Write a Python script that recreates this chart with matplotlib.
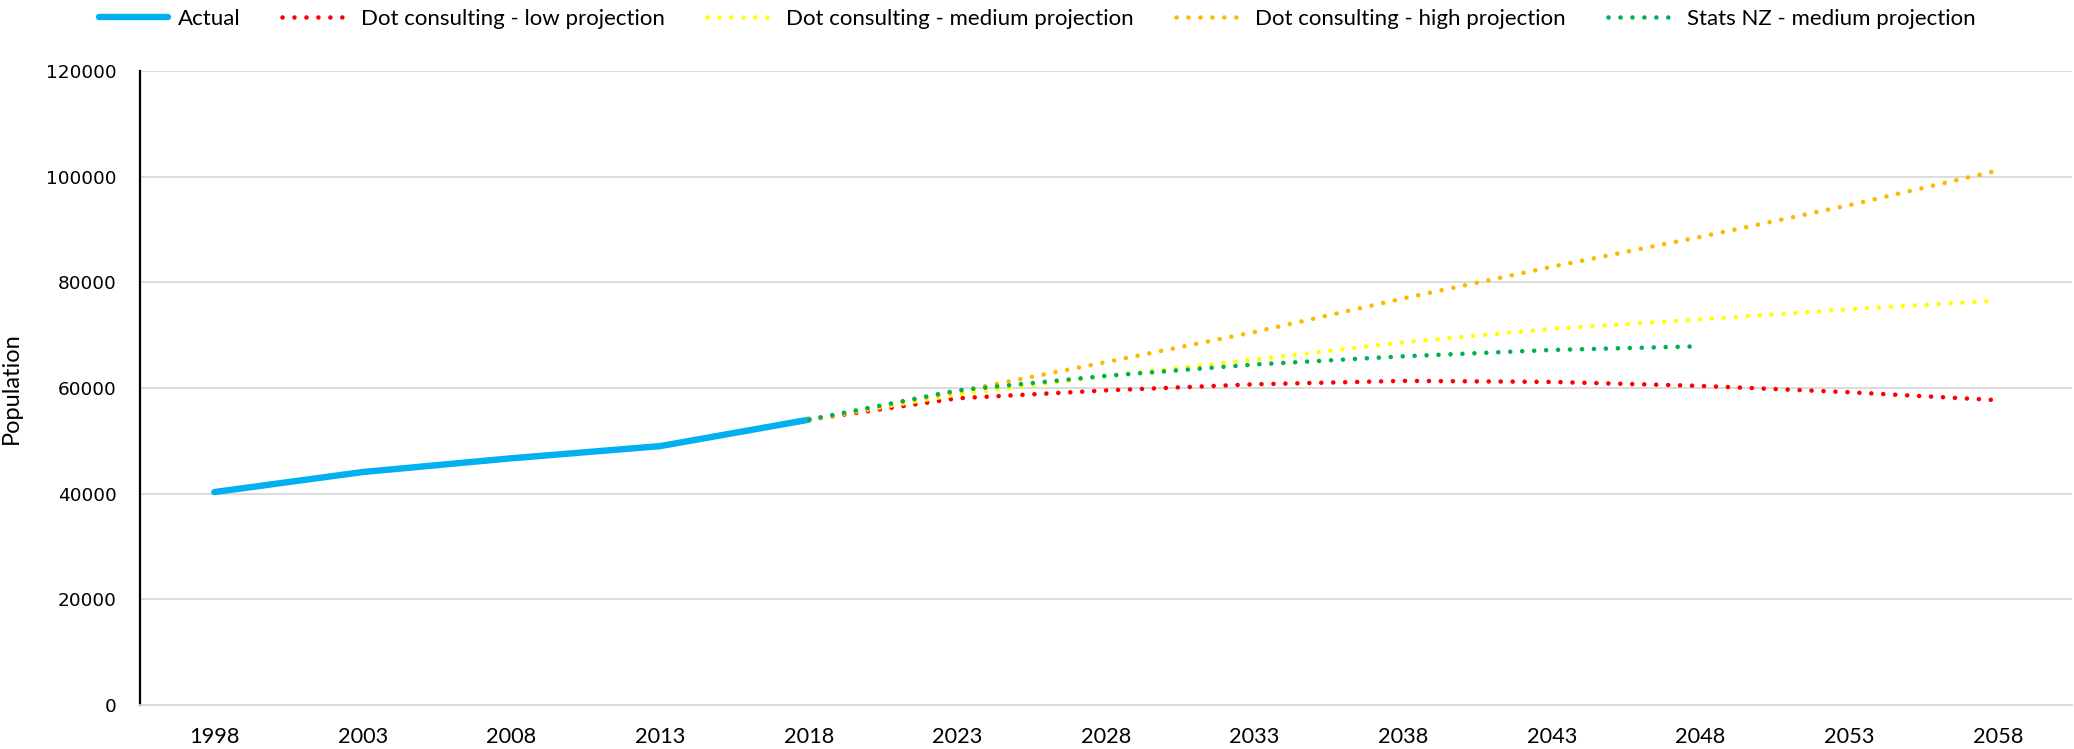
import numpy as np
import matplotlib.pyplot as plt

# anos (eixo de categorias)
years = ["1998", "2003", "2008", "2013", "2018", "2023", "2028",
         "2033", "2038", "2043", "2048", "2053", "2058"]

actual = [40300, 44100, 46700, 49000, 54000]
low_proj = [54000, 58050, 59550, 60700, 61350, 61150, 60400, 59200, 57700]
medium_proj = [54000, 58800, 62250, 65400, 68650, 71200, 73000, 74900, 76550]
high_proj = [54000, 59300, 64900, 70600, 76950, 82950, 88600, 94600, 101150]
statsnz_proj = [54000, 59550, 62300, 64450, 66000, 67200, 67900]

label_font = ['Lato', 'DejaVu Sans']


def plot_population():
    fig = plt.figure(figsize=(20.74, 7.49), dpi=100)
    ax = fig.add_axes([140 / 2074, 44 / 749, 1932 / 2074, 634 / 749])

    x_all = np.arange(len(years))
    x_act = x_all[:len(actual)]
    start = len(actual) - 1

    ax.plot(x_act, actual, color='#00B0F0', linewidth=4.6,
            solid_capstyle='round', label='Actual', zorder=3)

    dotted = dict(linewidth=3.3, linestyle=(0, (0.01, 2.6)),
                  dash_capstyle='round', zorder=3)
    ax.plot(x_all[start:start + len(low_proj)], low_proj, color='#FF0000',
            label='Dot consulting - low projection', **dotted)
    ax.plot(x_all[start:start + len(medium_proj)], medium_proj, color='#FFFF00',
            label='Dot consulting - medium projection', **dotted)
    ax.plot(x_all[start:start + len(high_proj)], high_proj, color='#FFB800',
            label='Dot consulting - high projection', **dotted)
    ax.plot(x_all[start:start + len(statsnz_proj)], statsnz_proj, color='#00B050',
            label='Stats NZ - medium projection', **dotted)

    ax.set_xlim(-0.5, len(years) - 0.5)
    ax.set_ylim(0, 120000)
    ax.set_yticks(np.arange(0, 120001, 20000))
    ax.set_xticks(x_all)
    ax.set_xticklabels(years, fontfamily=label_font, fontsize=15.7)
    for t in ax.get_yticklabels():
        t.set_fontfamily('DejaVu Sans')
        t.set_fontsize(13.3)
    ax.tick_params(axis='both', length=0, colors='#000000')
    ax.tick_params(axis='y', pad=17)
    ax.tick_params(axis='x', pad=16)

    ax.grid(axis='y', color='#D9D9D9', linewidth=1.3, zorder=0)
    ax.set_axisbelow(True)
    for side in ['top', 'right']:
        ax.spines[side].set_visible(False)
    ax.spines['bottom'].set_color('#D9D9D9')
    ax.spines['bottom'].set_linewidth(1.3)
    ax.spines['left'].set_color('#000000')
    ax.spines['left'].set_linewidth(1.6)

    ax.set_ylabel('Population', fontfamily=label_font, fontsize=17)
    ax.yaxis.set_label_coords(-118 / 1932, 0.5)

    handles, labels = ax.get_legend_handles_labels()
    fig.legend(handles, labels, loc='center', bbox_to_anchor=(0.5, 1 - 19 / 749),
               ncol=5, frameon=False, handlelength=3.1, columnspacing=1.9,
               handletextpad=0.45, prop={'family': label_font, 'size': 16})

    fig.savefig('out.png', dpi=100)


if __name__ == "__main__":
    plot_population()
